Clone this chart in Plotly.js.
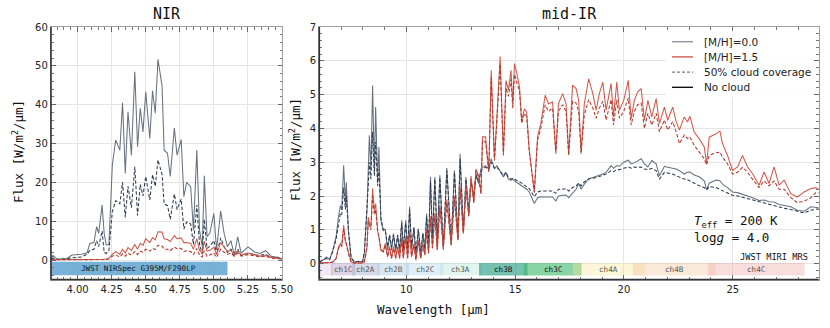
<!DOCTYPE html>
<html>
<head>
<meta charset="utf-8">
<script src="https://cdn.plot.ly/plotly-3.0.1.min.js"></script>
<style>html,body{margin:0;padding:0;background:#fff;} #chart{width:830px;height:328px;}</style>
</head>
<body>
<div id="chart"></div>
<script>
// ---------------- NIR data ----------------
const nirWl = [3.806,3.82,3.85,3.92,3.96,4.03,4.07,4.09,4.12,4.14,
 4.155,4.18,4.195,4.21,4.23,4.255,4.28,4.31,4.33,4.35,
 4.37,4.395,4.42,4.44,4.46,4.48,4.50,4.53,4.55,4.57,
 4.59,4.62,4.635,4.66,4.68,4.71,4.73,4.76,4.78,4.80,
 4.83,4.85,4.875,4.895,4.915,4.93,4.95,4.97,5.00,5.02,
 5.05,5.075,5.10,5.125,5.15,5.175,5.20,5.25,5.30,5.34,
 5.38,5.42,5.47,5.50];
const nirM0 = [0.4,1.2,0.2,0.4,1.3,1.5,1.9,4.3,4.5,8.6,
 6.9,14.2,6.9,3.9,4.0,24.5,30.9,28.3,40.5,22.3,
 38.2,27.0,48.5,29.2,39.1,33.0,43.3,31.3,43.6,37.8,
 51.7,44.8,28.3,27.5,21.5,34.0,27.0,31.0,16.3,20.0,
 18.9,7.7,28.3,7.7,3.4,21.7,6.0,6.9,12.0,2.6,
 12.6,6.9,3.4,5.0,1.3,6.0,1.7,3.4,2.1,1.7,
 2.4,1.0,0.7,0.3];
const nirM0cloud = [0.3,0.5,0.2,0.3,0.6,0.8,1.5,2.5,2.8,5.0,
 3.5,7.5,2.0,1.7,2.5,12.5,15.3,14.5,20.0,11.0,
 19.0,13.5,24.0,11.5,19.5,16.5,21.5,15.5,22.0,19.0,
 25.8,22.0,14.5,14.0,10.5,17.0,13.0,15.7,8.0,9.8,
 9.3,4.0,14.2,4.0,1.5,10.5,3.0,3.5,5.0,1.5,
 5.7,3.5,2.0,2.8,1.0,2.8,1.2,1.8,1.4,1.2,
 1.5,0.7,0.5,0.2];
const nirM15 = [0.1,0.1,0.1,0.1,0.1,0.1,0.1,0.1,0.1,0.15,
 0.15,0.2,0.2,0.3,0.5,1.5,2.2,1.5,2.8,1.8,
 3.2,2.5,4.0,2.8,4.3,3.8,5.5,4.5,5.8,5.2,
 7.3,7.2,5.5,5.3,4.8,6.3,5.5,5.7,4.5,4.5,
 4.3,2.8,5.5,2.5,1.8,4.8,2.3,2.5,3.3,1.5,
 4.5,3.3,2.3,2.5,1.3,2.3,1.3,1.8,1.3,1.0,
 1.2,0.7,0.5,0.3];
const nirM15cloud = [0.05,0.05,0.05,0.05,0.05,0.05,0.05,0.05,0.05,0.08,
 0.08,0.1,0.1,0.15,0.3,1.0,1.3,0.8,1.6,1.0,
 1.8,1.3,2.2,1.4,2.3,2.0,2.8,2.3,3.0,2.7,
 3.8,3.6,2.8,2.8,2.4,3.3,2.9,3.0,2.2,2.4,
 2.2,1.4,3.0,1.2,0.8,2.4,1.0,1.3,1.8,0.7,
 2.8,2.0,1.5,1.8,1.0,1.8,1.0,1.4,1.0,0.8,
 1.0,0.5,0.4,0.2];

// ---------------- mid-IR data ----------------
const midWl = [6.0,6.2,6.33,6.47,6.62,6.77,6.88,6.97,7.03,7.12,
 7.2,7.24,7.34,7.46,7.61,7.8,7.99,8.07,8.19,8.25,
 8.3,8.37,8.45,8.53,8.59,8.68,8.74,8.83,8.94,9.03,
 9.14,9.23,9.32,9.41,9.51,9.6,9.69,9.79,9.86,9.97,
 10.06,10.15,10.24,10.35,10.44,10.55,10.66,10.76,10.85,10.93,
 11.02,11.11,11.2,11.31,11.42,11.54,11.7,11.86,12.06,12.21,
 12.37,12.47,12.62,12.74,12.87,12.97,13.1,13.2,13.32,13.43,
 13.5,13.64,13.79,13.9,14.05,14.16,14.31,14.46,14.58,14.69,
 14.81,14.89,14.97,15.08,15.2,15.3,15.43,15.53,15.65,15.88,
 16.03,16.18,16.38,16.53,16.72,16.87,16.99,17.18,17.34,17.46,
 17.64,17.8,17.92,18.03,18.18,18.38,18.57,18.72,18.87,19.03,
 19.18,19.41,19.52,19.67,19.79,19.99,20.2,20.33,20.48,20.63,
 20.79,20.94,21.1,21.28,21.48,21.63,21.86,22.01,22.24,22.4,
 22.55,22.77,22.92,23.03,23.23,23.46,23.69,23.8,23.92,24.23,
 24.41,24.53,24.76,24.99,25.22,25.45,25.68,25.91,26.21,26.44,
 26.67,26.9,27.13,27.36,27.67,27.97,28.28,28.59,28.82,28.95];
const midM0 = [0.05,0.12,0.2,0.12,0.4,0.79,1.38,1.72,1.58,2.91,
 1.77,2.41,0.98,0.15,0.05,0.07,0.05,0.3,1.58,2.6,
 3.8,2.76,5.27,2.76,4.63,2.46,3.45,1.28,0.98,1.03,
 0.39,0.84,0.39,0.89,0.34,0.84,0.34,1.28,0.34,1.28,
 0.34,1.68,0.39,1.08,0.2,1.03,0.25,0.89,0.39,1.48,
 0.49,2.56,0.69,2.56,0.59,2.61,0.4,2.83,0.54,2.76,
 0.69,3.25,0.89,2.56,1.48,2.46,1.97,2.66,2.37,2.81,
 2.85,2.9,2.81,3.1,2.81,2.9,2.75,2.56,2.7,2.5,
 2.46,2.5,2.45,2.4,2.35,2.3,2.25,2.2,2.12,1.78,
 1.95,1.98,1.97,1.97,1.97,1.85,2.0,2.02,2.03,1.95,
 2.1,2.2,2.37,2.2,2.35,2.51,2.55,2.58,2.61,2.65,
 2.7,2.9,2.82,2.9,2.88,3.0,3.06,2.95,2.98,3.05,
 3.1,2.95,2.86,3.05,2.95,2.6,2.88,2.85,2.82,2.8,
 2.75,2.65,2.7,2.71,2.62,2.57,2.45,2.19,2.38,2.47,
 2.45,2.35,2.25,2.12,2.1,2.05,2.02,1.95,1.87,1.88,
 1.83,1.82,1.75,1.72,1.68,1.58,1.55,1.68,1.66,1.65];
const midM0cloud = [0.05,0.1,0.15,0.12,0.35,0.72,1.2,1.5,1.45,2.25,
 1.6,2.0,0.95,0.2,0.05,0.06,0.06,0.35,1.5,2.3,
 3.0,2.5,3.9,2.6,3.6,2.3,2.8,1.35,1.0,1.0,
 0.5,0.85,0.5,0.85,0.45,0.85,0.45,1.2,0.45,1.2,
 0.45,1.6,0.5,1.05,0.3,1.0,0.35,0.9,0.45,1.4,
 0.55,2.45,0.75,2.5,0.65,2.55,0.5,2.75,0.65,2.7,
 0.8,3.1,1.0,2.5,1.55,2.45,2.0,2.6,2.4,2.75,
 2.8,2.85,2.8,3.0,2.82,2.85,2.75,2.6,2.7,2.55,
 2.5,2.52,2.5,2.45,2.42,2.38,2.33,2.28,2.22,1.98,
 2.12,2.15,2.15,2.15,2.15,2.08,2.2,2.2,2.22,2.15,
 2.25,2.3,2.38,2.3,2.42,2.5,2.52,2.55,2.58,2.62,
 2.65,2.75,2.72,2.78,2.78,2.82,2.86,2.82,2.86,2.85,
 2.86,2.8,2.78,2.82,2.75,2.5,2.7,2.68,2.65,2.6,
 2.55,2.5,2.48,2.45,2.38,2.3,2.25,2.18,2.28,2.25,
 2.2,2.15,2.08,2.02,2.0,1.96,1.93,1.88,1.82,1.78,
 1.74,1.72,1.68,1.64,1.6,1.55,1.5,1.58,1.62,1.62];
const midM15 = [0.02,0.02,0.03,0.03,0.05,0.15,0.49,0.59,0.54,1.13,
 0.69,0.6,0.3,0.05,0.02,0.02,0.02,0.05,0.5,1.38,
 1.2,1.08,2.22,1.58,1.77,0.98,0.79,0.39,0.34,0.6,
 0.2,0.5,0.15,0.5,0.15,0.5,0.15,0.8,0.15,0.8,
 0.15,1.0,0.2,0.6,0.1,0.7,0.15,0.6,0.25,1.0,
 0.3,1.4,0.45,1.5,0.4,1.75,0.45,1.9,0.55,2.0,
 0.7,2.3,0.9,2.3,1.4,2.6,1.8,2.8,2.6,2.1,
 3.75,3.75,2.76,5.72,3.1,4.33,6.13,3.25,5.42,5.13,
 5.72,4.73,5.92,5.62,5.23,4.24,4.58,4.48,3.35,2.12,
 3.75,4.14,4.98,4.73,4.78,3.3,4.73,5.03,4.73,3.25,
 5.28,5.18,4.83,3.3,4.73,5.47,5.03,4.54,5.03,5.37,
 4.54,5.33,4.34,5.37,4.54,4.83,5.42,4.29,4.83,5.08,
 5.18,4.24,4.83,4.34,4.88,4.14,4.63,4.24,4.63,4.2,
 3.95,4.34,4.19,4.36,3.89,3.69,3.45,2.96,3.74,3.84,
 3.92,3.55,3.2,2.76,2.86,3.2,2.86,2.66,2.32,2.71,
 2.37,2.86,2.32,2.47,2.07,1.97,2.12,2.22,2.24,2.2];
const midM15cloud = [0.02,0.02,0.03,0.03,0.05,0.15,0.45,0.55,0.5,1.02,
 0.65,0.58,0.28,0.05,0.02,0.02,0.02,0.05,0.45,1.25,
 1.1,1.0,2.0,1.45,1.6,0.95,0.8,0.42,0.36,0.55,
 0.22,0.45,0.18,0.45,0.18,0.48,0.18,0.7,0.18,0.72,
 0.18,0.9,0.22,0.55,0.12,0.65,0.17,0.55,0.27,0.95,
 0.32,1.3,0.47,1.4,0.42,1.65,0.5,1.8,0.58,1.9,
 0.72,2.2,0.92,2.2,1.4,2.5,1.8,2.75,2.55,2.05,
 3.65,3.6,2.7,5.5,3.05,4.2,5.9,3.2,5.2,4.95,
 5.45,4.6,5.6,5.35,5.1,4.15,4.45,4.35,3.3,2.1,
 3.65,4.0,4.7,4.5,4.6,3.25,4.5,4.7,4.5,3.2,
 4.8,4.75,4.5,3.25,4.4,4.85,4.6,4.3,4.6,4.8,
 4.25,4.85,4.1,4.85,4.3,4.5,4.9,4.1,4.5,4.7,
 4.75,4.0,4.45,4.1,4.45,3.9,4.25,3.95,4.2,3.9,
 3.55,3.8,3.7,3.75,3.5,3.3,3.1,2.92,3.2,3.28,
 3.3,3.15,2.95,2.65,2.7,2.85,2.7,2.5,2.25,2.45,
 2.3,2.45,2.2,2.2,1.95,1.8,1.85,1.95,2.1,2.1];

// ---------------- instrument coverage ----------------
const mrsBands = ['ch1B','ch1C','ch2A','ch2B','ch2C','ch3A','ch3B','ch3C','ch4A','ch4B','ch4C'];
const mrsStart = [5.66, 6.53, 7.51, 8.67, 10.02, 11.55, 13.34, 15.41, 17.65, 20.41, 23.87];
const mrsEnd   = [6.63, 7.65, 8.77, 10.13, 11.70, 13.47, 15.57, 18.05, 20.95, 24.20, 28.30];
const nirspecName = 'JWST NIRSpec G395M/F290LP';
const nirspecRange = [2.87, 5.10];
const legendLabels = ['[M/H]=0.0', '[M/H]=1.5', '50% cloud coverage', 'No cloud'];

// ---------------- styles ----------------
const bandColors = ['rgba(195,165,215,0.25)','rgba(175,145,195,0.40)','rgba(150,165,195,0.40)',
  'rgba(160,195,228,0.40)','rgba(178,212,240,0.40)','rgba(170,226,210,0.35)',
  'rgba(40,160,130,0.65)','rgba(60,182,105,0.60)','rgba(250,228,150,0.38)',
  'rgba(240,190,150,0.36)','rgba(238,165,165,0.38)'];
const bandTextColors = ['#555','#555','#555','#555','#555','#555','#111','#111','#555','#555','#555'];
const legendColors = ['#8d96a0', '#cd5c50', '#7a7a7a', '#111111'];
const legendDash = ['solid', 'solid', 'dash', 'solid'];
const C = {g0:'#66727f', gc:'#2c3b52', r0:'#d0584c', rc:'#b23a30'};
const mono = 'DejaVu Sans Mono, monospace';
const sans = 'DejaVu Sans, sans-serif';
const W = 830, H = 328;
const midRange = [6.0, 28.95];
const px = v => v / W, py = v => 1 - v / H;

function line(x, y, color, dash, xa, ya) {
  return {x, y, type:'scatter', mode:'lines', xaxis:xa, yaxis:ya, showlegend:false,
    hoverinfo:'skip', line:{color, width:1.05, dash: dash ? '3.5px,2px' : 'solid'}};
}

const traces = [
  line(nirWl, nirM0, C.g0, false, 'x', 'y'),
  line(nirWl, nirM0cloud, C.gc, true, 'x', 'y'),
  line(nirWl, nirM15, C.r0, false, 'x', 'y'),
  line(nirWl, nirM15cloud, C.rc, true, 'x', 'y'),
  line(midWl, midM0, C.g0, false, 'x2', 'y2'),
  line(midWl, midM0cloud, C.gc, true, 'x2', 'y2'),
  line(midWl, midM15, C.r0, false, 'x2', 'y2'),
  line(midWl, midM15cloud, C.rc, true, 'x2', 'y2'),
];

const shapes = [];
const annotations = [];

// MIRI MRS bands
mrsBands.forEach((nm, i) => {
  const x0 = Math.max(mrsStart[i], midRange[0]);
  const x1 = Math.min(mrsEnd[i], midRange[1]);
  shapes.push({type:'rect', xref:'x2', yref:'y2', x0, x1, y0:-0.35, y1:0.02,
    fillcolor:bandColors[i], line:{width:0}, layer:'between'});
  if (mrsStart[i] >= midRange[0]) {
    annotations.push({xref:'x2', yref:'y2', x:(x0 + x1) / 2, y:-0.165, yanchor:'middle', text:nm, showarrow:false,
      font:{family:mono, size:7.6, color:bandTextColors[i]}});
  }
});
// NIRSpec band
shapes.push({type:'rect', xref:'x', yref:'y', x0:Math.max(nirspecRange[0], 3.805), x1:nirspecRange[1],
  y0:-3.9, y1:-0.4, fillcolor:'rgba(108,170,212,0.92)', line:{width:0}, layer:'between'});
annotations.push({xref:'x', yref:'y', x:4.45, y:-2.15, yanchor:'middle', text:nirspecName, showarrow:false,
  font:{family:mono, size:7.6, color:'#111'}});
annotations.push({xref:'x2', yref:'y2', x:26.9, y:0.2, yanchor:'middle', text:'JWST MIRI MRS', showarrow:false,
  font:{family:mono, size:8.7, color:'#111'}});
annotations.push({xref:'x2', yref:'y2', x:23.15, y:1.24, xanchor:'left', yanchor:'middle',
  text:'<i>T</i><sub>eff</sub> = 200 K', showarrow:false, font:{family:mono, size:12.5, color:'#111'}});
annotations.push({xref:'x2', yref:'y2', x:23.15, y:0.76, xanchor:'left', yanchor:'middle',
  text:'log<i>g</i> = 4.0', showarrow:false, font:{family:mono, size:12.5, color:'#111'}});

// legend (drawn by hand to match spacing)
shapes.push({type:'rect', xref:'paper', yref:'paper', x0:px(666), x1:px(814), y0:py(97), y1:py(31),
  fillcolor:'rgba(255,255,255,0.9)', line:{width:0}, layer:'above'});
legendLabels.forEach((lab, i) => {
  const yy = 41.7 + i * 15.2;
  shapes.push({type:'line', xref:'paper', yref:'paper', x0:px(672), x1:px(693), y0:py(yy), y1:py(yy),
    line:{color:legendColors[i], width:1.4, dash:legendDash[i] === 'dash' ? '3px,2px' : 'solid'}, layer:'above'});
  annotations.push({xref:'paper', yref:'paper', x:px(701.5), y:py(yy), xanchor:'left', yanchor:'middle',
    text:lab, showarrow:false, font:{family:sans, size:10.5, color:'#222'}});
});

// titles
const ann = (x, y, text, size, extra) => annotations.push(Object.assign({xref:'paper', yref:'paper',
  x:px(x), y:py(y), xanchor:'center', yanchor:'middle', text, showarrow:false,
  font:{family:mono, size, color:'#111'}}, extra || {}));
ann(166.5, 14, 'NIR', 15);
ann(569, 14, 'mid-IR', 15);
ann(18, 152, 'Flux [W/m<sup>2</sup>/μm]', 12.5, {textangle:-90});
ann(295, 150, 'Flux [W/m<sup>2</sup>/μm]', 12.5, {textangle:-90});
ann(433, 309, 'Wavelength [μm]', 12.5);

// dark left/bottom spines
[['x','y'],['x2','y2']].forEach(([xa, ya]) => {
  shapes.push({type:'line', xref:xa + ' domain', yref:ya + ' domain', x0:0, x1:0, y0:0, y1:1,
    line:{color:'#333', width:1.6}, layer:'above'});
  shapes.push({type:'line', xref:xa + ' domain', yref:ya + ' domain', x0:0, x1:1, y0:0, y1:0,
    line:{color:'#333', width:1.6}, layer:'above'});
});

const axisBase = {showline:true, linecolor:'#9aa0a6', linewidth:1.2, mirror:'ticks', ticks:'inside',
  ticklen:4.5, tickcolor:'#666', tickwidth:1, showgrid:true, gridcolor:'#e4e4e4', gridwidth:1,
  zeroline:false, tickfont:{family:sans, size:10, color:'#222'}, fixedrange:true};
const yTop = 1 - 27/H, yBot = 1 - 279.5/H;
const minor = d => ({dtick:d, ticks:'inside', ticklen:2.5, tickcolor:'#777', showgrid:false});

const layout = {
  width:W, height:H, margin:{l:0, r:0, t:0, b:0}, paper_bgcolor:'#fff', plot_bgcolor:'#fff',
  showlegend:false,
  xaxis: Object.assign({}, axisBase, {domain:[51/W, 282/W], range:[3.805, 5.5], tick0:4, dtick:0.25,
    tickformat:'.2f', anchor:'y', minor:minor(0.05)}),
  yaxis: Object.assign({}, axisBase, {domain:[yBot, yTop], range:[-5, 60], tick0:0, dtick:10, anchor:'x',
    minor:minor(2)}),
  xaxis2: Object.assign({}, axisBase, {domain:[319.3/W, 818.7/W], range:midRange, tick0:0, dtick:5, anchor:'y2',
    minor:minor(1)}),
  yaxis2: Object.assign({}, axisBase, {domain:[yBot, yTop], range:[-0.47, 7], tick0:0, dtick:1, anchor:'x2',
    minor:minor(0.2)}),
  shapes, annotations,
};

Plotly.newPlot('chart', traces, layout, {displayModeBar:false, staticPlot:true});
</script>
</body>
</html>
